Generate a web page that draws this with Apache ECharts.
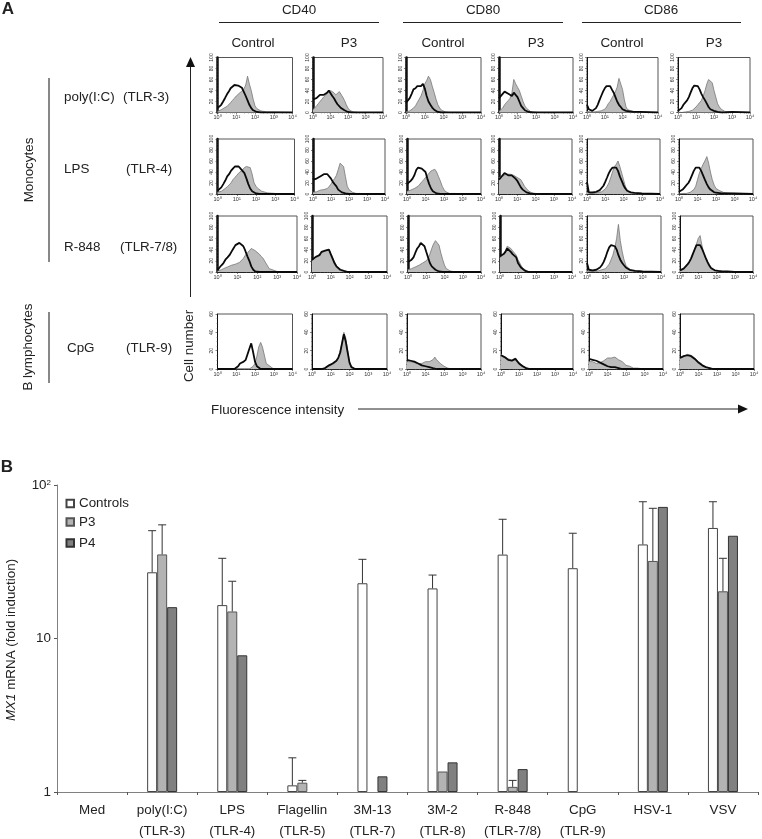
<!DOCTYPE html>
<html><head><meta charset="utf-8">
<style>html,body{margin:0;padding:0;background:#fff}#c{width:762px;height:839px}</style>
<script src="https://cdn.jsdelivr.net/npm/echarts@6/dist/echarts.min.js"></script>
</head><body><div id="c"></div>
<script>
// ---------- Panel B data ----------
const stimuli = ['Med','poly(I:C)\n(TLR-3)','LPS\n(TLR-4)','Flagellin\n(TLR-5)','3M-13\n(TLR-7)','3M-2\n(TLR-8)','R-848\n(TLR-7/8)','CpG\n(TLR-9)','HSV-1','VSV'];
const controls    = [null,27,16.5,1.105,22.9,21.2,35.2,28.7,41,52.5];
const p3          = [null,35.3,15,1.15,null,1.36,1.08,null,32,20.3];
const p4          = [null,16,7.77,null,1.265,1.56,1.41,null,72,46.7];
const controlsErr = [null,50.4,33.3,1.67,32.8,25.9,59.8,48.5,77.8,77.8];
const p3Err       = [null,55,23.6,1.19,null,null,1.19,null,70.5,33.3];

// ---------- Panel A data: cell counts at fixed fluorescence values, columns CD40 ctl/P3, CD80 ctl/P3, CD86 ctl/P3 ----------
const fluorescence = [1,1.26,1.58,2,2.5,3.2,4,5,6.3,8,10,12.6,15.8,20,25,32,40,50,63,80,100,126,158,200,250,400,1000,10000];
const fillPoly = [
 [2,3,5,7,9,11,14,18,22,26,30,33,36,38,42,50,66,52,40,24,12,7,4,3,2,1,1],
 [5,8,12,16,20,24,28,30,34,36,40,38,36,32,34,38,36,28,22,14,8,4,2,1,1],
 [1,2,3,5,8,12,18,24,30,40,52,58,66,60,48,36,24,14,8,4,2,1,1],
 [2,5,8,14,18,22,26,36,60,52,46,40,30,20,12,7,4,2,1,1],
 [2,1,1,1,1,2,2,3,3,4,6,10,16,20,26,32,38,46,62,60,42,24,10,5,3,2,1],
 [1,0,0,1,1,1,2,3,4,6,10,14,18,22,30,40,52,60,63,54,40,28,16,10,6,2,1]];
const linePoly = [
 [8,10,14,20,26,33,38,44,47,50,50,49,47,45,38,30,22,14,8,4,2,1,1],
 [24,24,26,28,32,34,32,35,36,40,38,30,26,20,15,12,8,6,4,2,1],
 [18,22,26,34,42,44,48,50,48,52,44,30,20,14,9,5,3,1,1],
 [26,28,34,38,36,34,34,30,36,34,28,20,12,8,4,2,1],
 [14,6,3,3,5,8,14,22,30,38,44,48,50,48,42,36,28,20,14,10,6,4,3,2,2,1,1],
 [3,4,8,14,18,22,28,36,44,49,50,48,42,34,28,22,16,10,6,4,3,2,1,1,0,0,1]];
const fillLps = [
 [3,4,5,7,10,13,16,20,26,30,34,38,40,44,48,50,52,48,36,20,14,10,8,5,4,2,1],
 [3,4,4,5,7,7,8,9,10,14,18,24,28,34,44,56,58,50,32,14,8,5,3,2,1,1],
 [5,6,7,9,10,12,14,18,22,26,30,34,38,42,44,45,40,32,24,14,8,4,2,1,1,1],
 [30,30,32,34,36,38,36,38,34,36,30,28,26,20,14,10,6,4,2,1,1],
 [3,1,1,1,1,2,3,3,4,6,9,14,20,30,40,50,54,60,50,38,26,14,8,4,3,2,1],
 [0,1,1,1,1,2,3,5,8,14,26,38,46,54,60,68,56,40,26,16,10,8,6,4,3,2,1]];
const lineLps = [
 [6,9,12,18,24,32,36,42,46,50,50,50,46,44,38,28,18,10,5,3,1,1],
 [26,26,28,30,32,34,36,36,36,38,28,22,18,14,8,5,3,2,1],
 [18,20,24,28,34,44,48,50,46,48,40,28,18,10,5,3,1],
 [26,30,34,38,36,34,36,34,36,28,24,18,12,8,5,3,2,1],
 [22,3,3,3,4,4,5,7,10,15,22,30,38,44,48,50,48,42,32,24,16,10,6,4,3,2,1],
 [4,6,8,12,16,20,26,34,42,48,50,48,42,34,26,18,12,8,5,3,2,2,1,1,1,1,1]];
const fillR848 = [
 [2,3,4,6,7,9,10,12,14,14,15,17,20,24,30,34,38,42,40,38,36,32,28,24,18,6,1],
 [20,22,26,30,32,34,36,38,38,40,34,26,18,12,8,5,3,2,1,1],
 [4,5,6,8,9,10,12,14,16,18,20,24,32,42,50,56,57,48,34,22,12,6,3,2,1],
 [26,28,32,38,46,48,42,38,36,30,22,16,10,6,3,2,1],
 [2,1,1,1,1,2,2,3,4,5,6,10,14,22,30,44,60,85,56,36,22,12,8,5,3,2,1],
 [3,3,5,8,12,16,22,30,40,50,60,65,48,34,24,16,10,6,4,3,2,2,1,1,1,1]];
const lineR848 = [
 [3,8,12,16,22,26,30,36,42,48,50,52,50,46,38,28,20,10,4,1],
 [22,24,27,30,30,36,35,38,36,40,32,24,16,10,7,4,3,2,1],
 [18,20,22,26,34,42,46,52,50,46,36,26,16,10,7,4,2,1],
 [28,28,32,36,42,40,36,32,30,26,16,11,7,4,2,1],
 [16,4,3,3,4,4,6,8,12,18,26,36,44,48,50,46,40,30,22,16,12,8,6,4,3,2,1],
 [3,4,6,9,13,18,24,32,40,48,50,48,42,34,26,18,12,7,4,3,2,2,1,1,1,1]];
const fillCpg = [
 [0,0,0,0,0,0,0,0,0,0,0,0,0,0,0,0,0,0,1,3,6,14,24,29,24,6],
 [0,0,0,0,0,0,0,1,2,3,4,5,6,8,12,20,30,40,34,20,8,3,1],
 [8,9,8,7,7,6,6,7,6,7,8,7,8,9,10,13,10,8,6,5,3,2,1],
 [16,14,13,12,11,13,10,11,12,10,7,5,4,2,1,1],
 [8,9,8,7,6,6,7,8,9,11,12,13,12,11,13,12,10,9,8,6,4,3,3,2,1,1],
 [12,13,14,16,16,18,15,14,12,10,8,6,5,3,2,1,1,1]];
const lineCpg = [
 [0,0,0,0,0,0,0,0,0,0,1,3,6,7,8,10,16,22,28,18,8,3,1],
 [0,0,0,0,0,0,0,1,3,4,5,6,7,9,12,18,28,38,30,18,7,2,1],
 [10,10,9,8,8,7,6,5,4,3,3,2,2,1,1,1],
 [15,14,13,12,10,12,9,10,11,9,6,4,3,2,1],
 [11,11,10,10,9,8,7,6,5,4,3,3,2,2,2,1,1,1],
 [12,12,14,14,15,15,14,13,11,9,7,5,4,3,2,1,1]];
const yMaxByRow = [100,100,100,60];
const decadeLabels = ['10\u2070','10\u00b9','10\u00b2','10\u00b3','10\u2074'];

// ---------- layout ----------
const FONT = '"Liberation Sans", Arial, sans-serif';
const INK = '#222';
const FS = 13.4;
const rows = [
 {top:57.5,bottom:112.5,fill:fillPoly,line:linePoly,x:[[217.5,292.5],[313,383],[406,481],[499,573],[587,658],[678,750]]},
 {top:139,bottom:194,fill:fillLps,line:lineLps,x:[[217.5,294.5],[313,385],[407,481],[499,572],[587,660],[679,753]]},
 {top:216,bottom:272,fill:fillR848,line:lineR848,x:[[217.5,297],[312,387],[408,481],[500,572],[587,661],[680,753]]},
 {top:314,bottom:369,fill:fillCpg,line:lineCpg,x:[[217.5,292.5],[312,387],[407,481],[501,573],[589,663],[680,754]]}
];
const grid=[], xAxis=[], yAxis=[], series=[];
rows.forEach((r,ri)=>{
  r.x.forEach((span,ci)=>{
    const g=grid.length, thick=(ri<3&&ci<4);
    grid.push({left:span[0],top:r.top,width:span[1]-span[0],height:r.bottom-r.top,show:true,borderColor:'#555',borderWidth:1,backgroundColor:'transparent',outerBoundsMode:'none'});
    xAxis.push({gridIndex:g,type:'log',logBase:10,min:1,max:10000,
      axisLine:{show:true,onZero:false,lineStyle:{color:'#222',width:1}},
      axisTick:{show:true,length:2,lineStyle:{color:'#333',width:.6}},
      minorTick:{show:true,splitNumber:5,length:1,lineStyle:{color:'#555',width:.5}},
      splitLine:{show:false},minorSplitLine:{show:false},
      axisLabel:{fontSize:5.5,color:'#333',margin:2,fontFamily:FONT,hideOverlap:false,showMinLabel:true,showMaxLabel:true,
        formatter:v=>decadeLabels[Math.round(Math.log10(v))]}});
    yAxis.push({gridIndex:g,type:'value',min:0,max:yMaxByRow[ri],interval:20,
      axisLine:{show:true,onZero:false,lineStyle:{color:'#111',width:thick?2.5:1}},
      axisTick:{show:true,length:2,lineStyle:{color:'#333',width:.6}},
      minorTick:{show:true,splitNumber:4,length:1,lineStyle:{color:'#555',width:.5}},
      splitLine:{show:false},
      axisLabel:{fontSize:5,rotate:90,color:'#333',margin:3,fontFamily:FONT}});
    const pair=(arr)=>fluorescence.map((x,i)=>[x,arr[i]===undefined?0:arr[i]]);
    series.push({type:'line',xAxisIndex:g,yAxisIndex:g,data:pair(r.fill[ci]),showSymbol:false,silent:true,
      lineStyle:{color:'#777',width:.8},areaStyle:{color:'#bcbcbc',opacity:1},z:2});
    series.push({type:'line',xAxisIndex:g,yAxisIndex:g,data:pair(r.line[ci]),showSymbol:false,silent:true,
      lineStyle:{color:'#0a0a0a',width:1.8},z:3});
  });
});

// Panel B
const gb=grid.length;
grid.push({left:57,top:485,width:701,height:307,outerBoundsMode:'none'});
xAxis.push({gridIndex:gb,type:'category',data:stimuli,
  axisLine:{lineStyle:{color:'#808080',width:1}},
  axisTick:{show:true,length:3,lineStyle:{color:'#555'}},
  axisLabel:{fontSize:FS,color:INK,margin:7.5,lineHeight:21,fontFamily:FONT,interval:0}});
yAxis.push({gridIndex:gb,type:'log',logBase:10,min:1,max:100,
  axisLine:{show:true,lineStyle:{color:'#808080',width:1}},
  axisTick:{show:true,length:3,lineStyle:{color:'#555'}},
  minorTick:{show:false},splitLine:{show:false},minorSplitLine:{show:false},
  axisLabel:{fontSize:FS,color:INK,margin:6,fontFamily:FONT,
    formatter:v=>v>=100?'{n|10}{s|2}':String(Math.round(v)),
    rich:{n:{fontSize:FS,color:INK,fontFamily:FONT},s:{fontSize:8,color:INK,fontFamily:FONT,verticalAlign:'top',padding:[0,0,4,0]}}}});
const BAR_W=10;
const barDefs=[['Controls',controls,'#ffffff','#444'],['P3',p3,'#b3b3b3','#555'],['P4',p4,'#808080','#333']];
barDefs.forEach(d=>series.push({name:d[0],type:'bar',xAxisIndex:gb,yAxisIndex:gb,data:d[1],barWidth:BAR_W,barGap:0,
  itemStyle:{color:d[2],borderColor:d[3],borderWidth:1},z:4}));
[[controls,controlsErr,-1],[p3,p3Err,0]].forEach(([base,err,k])=>{
  const data=[];
  err.forEach((e,i)=>{if(e!==null)data.push([i,e,base[i]]);});
  series.push({type:'custom',xAxisIndex:gb,yAxisIndex:gb,data:data,encode:{x:0,y:1},silent:true,z:5,
    renderItem:(params,api)=>{
      const top=api.coord([api.value(0),api.value(1)]), bot=api.coord([api.value(0),api.value(2)]);
      const x=top[0]+k*BAR_W;
      const st={stroke:'#333',lineWidth:1,fill:null};
      return {type:'group',children:[
        {type:'line',shape:{x1:x,y1:top[1],x2:x,y2:bot[1]},style:st},
        {type:'line',shape:{x1:x-4,y1:top[1],x2:x+4,y2:top[1]},style:st}]};
    }});
});

// texts and annotation lines
const T=(text,x,y,o={})=>({type:'text',x,y,rotation:o.rot||0,silent:true,style:{text,fontSize:o.size||FS,fontWeight:o.bold?'bold':'normal',
  fontFamily:FONT,fill:INK,align:o.align||'center',verticalAlign:'middle',rich:o.rich}});
const L=(x1,y1,x2,y2,c='#222',w=1)=>({type:'line',silent:true,shape:{x1,y1,x2,y2},style:{stroke:c,lineWidth:w}});
const P=(pts)=>({type:'polygon',silent:true,shape:{points:pts},style:{fill:'#111'}});
const V=Math.PI/2;
const graphic=[
 T('A',8,9,{size:17,bold:true}),T('B',7,467,{size:17,bold:true}),
 T('CD40',299,10),T('CD80',483,10),T('CD86',661,10),
 L(219,22.5,379,22.5),L(403,22.5,563,22.5),L(582,22.5,741,22.5),
 T('Control',253,43),T('P3',349,43),T('Control',443,43),T('P3',536,43),T('Control',622,43),T('P3',714,43),
 T('Monocytes',29,170,{rot:V}),T('B lymphocytes',28,347,{rot:V}),
 L(49,78,49,262,'#888',2),L(49,312,49,383,'#888',2),
 T('poly(I:C)',64,97,{align:'left'}),T('(TLR-3)',123,97,{align:'left'}),
 T('LPS',64,169,{align:'left'}),T('(TLR-4)',126,169,{align:'left'}),
 T('R-848',64,247,{align:'left'}),T('(TLR-7/8)',120,247,{align:'left'}),
 T('CpG',67,348,{align:'left'}),T('(TLR-9)',126,348,{align:'left'}),
 L(190.5,66,190.5,297),P([[190.5,57],[186,67],[195,67]]),
 T('Cell number',189,346,{rot:V}),
 T('Fluorescence intensity',211,410,{align:'left'}),
 L(358,409,740,409),P([[748,409],[738,404.5],[738,413.5]]),
 T('{i|MX1} mRNA (fold induction)',11,640,{rot:V,rich:{i:{fontStyle:'italic',fontSize:FS,fontFamily:FONT,fill:INK}}})
];

const legendTops=[497,515.5,536.5];
const legend=barDefs.map((d,i)=>({data:[{name:d[0],icon:'rect'}],left:65.5,top:legendTops[i],orient:'vertical',itemWidth:7.5,itemHeight:7.5,itemGap:0,padding:0,
  selectedMode:false,textStyle:{fontSize:FS,color:INK,fontFamily:FONT}}));

const chart=echarts.init(document.getElementById('c'),null,{renderer:'canvas'});
chart.setOption({animation:false,backgroundColor:'#fff',grid,xAxis,yAxis,series,legend,graphic:{elements:graphic}});
</script></body></html>
